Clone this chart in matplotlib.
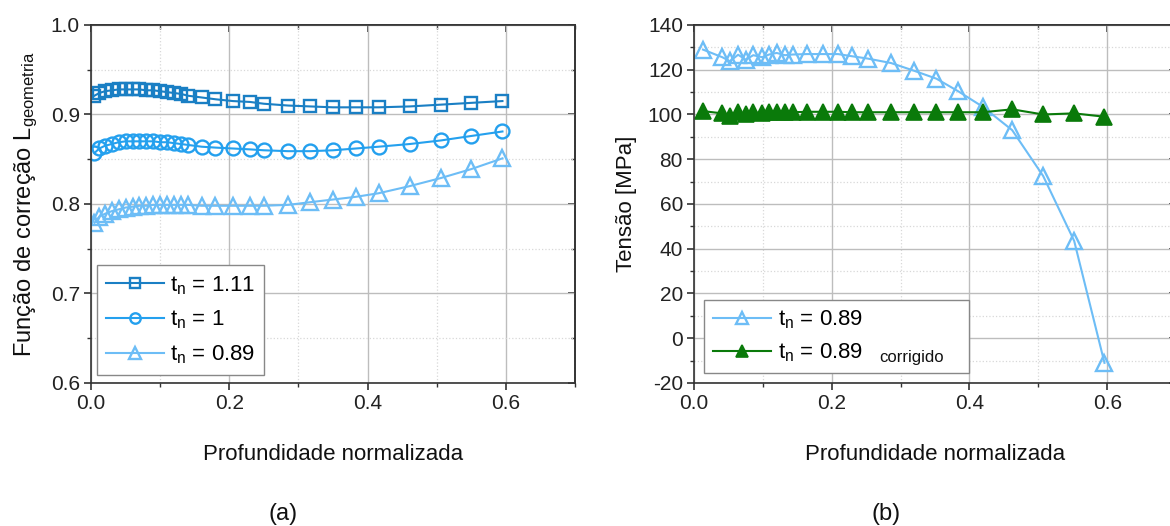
import matplotlib
matplotlib.use("Agg")
import matplotlib.pyplot as plt
from matplotlib.ticker import MultipleLocator, FormatStrFormatter

plt.rcParams['font.family'] = ['Liberation Sans', 'DejaVu Sans']
plt.rcParams['mathtext.fontset'] = 'custom'
plt.rcParams['mathtext.rm'] = 'Liberation Sans'
plt.rcParams['mathtext.it'] = 'Liberation Sans'
plt.rcParams['axes.unicode_minus'] = False

# ---- panel (a) data ----
depth_a = [0.005, 0.012, 0.02, 0.03, 0.04, 0.05, 0.06, 0.07, 0.08, 0.09, 0.10, 0.11,
           0.12, 0.13, 0.14, 0.16, 0.18, 0.205, 0.23, 0.25, 0.285, 0.317, 0.35, 0.383,
           0.416, 0.461, 0.506, 0.55, 0.595]
L_111 = [0.921, 0.924, 0.926, 0.927, 0.928, 0.928, 0.928, 0.928, 0.927, 0.927, 0.926, 0.925,
         0.924, 0.923, 0.921, 0.919, 0.917, 0.915, 0.914, 0.912, 0.910, 0.909, 0.908, 0.908,
         0.908, 0.909, 0.911, 0.913, 0.915]
L_100 = [0.857, 0.862, 0.865, 0.867, 0.869, 0.870, 0.870, 0.870, 0.870, 0.870, 0.869, 0.869,
         0.868, 0.867, 0.866, 0.864, 0.863, 0.862, 0.861, 0.860, 0.859, 0.859, 0.860, 0.862,
         0.864, 0.867, 0.871, 0.876, 0.881]
L_089 = [0.779, 0.786, 0.789, 0.792, 0.794, 0.796, 0.797, 0.798, 0.798, 0.799, 0.799, 0.799,
         0.799, 0.799, 0.799, 0.798, 0.798, 0.798, 0.798, 0.798, 0.799, 0.802, 0.805, 0.808,
         0.812, 0.820, 0.829, 0.839, 0.851]
labels_a = ["t$_{\\mathrm{n}}$ = 1.11", "t$_{\\mathrm{n}}$ = 1", "t$_{\\mathrm{n}}$ = 0.89"]

# ---- panel (b) data ----
depth_b = [0.013, 0.041, 0.052, 0.064, 0.075, 0.086, 0.099, 0.109, 0.120, 0.132, 0.143,
           0.164, 0.187, 0.209, 0.230, 0.252, 0.286, 0.319, 0.352, 0.384, 0.419, 0.462,
           0.507, 0.552, 0.596]
stress_raw = [129.0, 125.6, 123.8, 126.7, 124.5, 126.5, 125.6, 126.8, 127.5, 126.5, 126.8,
              127.0, 127.0, 127.0, 126.0, 125.0, 123.0, 119.6, 116.0, 110.3, 103.5, 93.0,
              72.5, 43.5, -11.0]
stress_corr = [101.5, 100.5, 99.2, 101.2, 100.0, 101.0, 100.5, 101.2, 101.2, 101.0, 101.0,
               101.2, 101.2, 101.2, 101.0, 101.0, 101.0, 101.0, 101.0, 101.0, 101.0, 102.3,
               100.0, 100.5, 99.0]
labels_b = ["t$_{\\mathrm{n}}$ = 0.89", "t$_{\\mathrm{n}}$ = 0.89"]

c_sq = "#1a7fc4"
c_ci = "#24a0ee"
c_tr = "#6dbdf6"
c_gr = "#0a7a0a"

fig = plt.figure(figsize=(11.7, 5.26), dpi=100)
ax1 = fig.add_axes([0.0778, 0.2719, 0.4137, 0.6806])
ax2 = fig.add_axes([0.5932, 0.2719, 0.4120, 0.6806])

fs_tick = 15
fs_lab = 16

def style(ax, xmaj, xmin, ymaj, ymin, xlim, ylim):
    ax.set_xlim(*xlim)
    ax.set_ylim(*ylim)
    ax.xaxis.set_major_locator(MultipleLocator(xmaj))
    ax.xaxis.set_minor_locator(MultipleLocator(xmin))
    ax.yaxis.set_major_locator(MultipleLocator(ymaj))
    ax.yaxis.set_minor_locator(MultipleLocator(ymin))
    ax.grid(which='major', color='#bdbdbd', lw=1.0, ls='-')
    ax.grid(which='minor', color='#d8d8d8', lw=0.9, ls=':')
    ax.set_axisbelow(True)
    ax.tick_params(which='major', direction='out', length=5, width=1.2, labelsize=fs_tick,
                   colors='#333333', labelcolor='#222222', pad=3)
    ax.tick_params(which='minor', direction='out', length=3, width=1.0, colors='#333333')
    for s in ax.spines.values():
        s.set_color('#333333')
        s.set_linewidth(1.2)
    top = ax.secondary_xaxis('top')
    top.xaxis.set_major_locator(MultipleLocator(xmaj))
    top.xaxis.set_minor_locator(MultipleLocator(xmin))
    top.tick_params(which='major', direction='in', length=5, width=1.2, labeltop=False, colors='#333333')
    top.tick_params(which='minor', direction='in', length=3, width=1.0, colors='#333333')
    right = ax.secondary_yaxis('right')
    right.yaxis.set_major_locator(MultipleLocator(ymaj))
    right.yaxis.set_minor_locator(MultipleLocator(ymin))
    right.tick_params(which='major', direction='in', length=5, width=1.2, labelright=False, colors='#333333')
    right.tick_params(which='minor', direction='in', length=3, width=1.0, colors='#333333')
    for sa in (top, right):
        for s in sa.spines.values():
            s.set_color('#333333')
            s.set_linewidth(1.2)

style(ax1, 0.2, 0.1, 0.1, 0.05, (0.0, 0.7), (0.6, 1.0))
style(ax2, 0.2, 0.1, 20, 10, (0.0, 0.7), (-20, 140))

ax1.yaxis.set_major_formatter(FormatStrFormatter('%.1f'))
ax1.xaxis.set_major_formatter(FormatStrFormatter('%.1f'))
ax2.xaxis.set_major_formatter(FormatStrFormatter('%.1f'))

mkw = dict(markerfacecolor='none', markeredgewidth=1.7, lw=1.5)
ax1.plot(depth_a, L_111, marker='s', ms=9, color=c_sq, label=labels_a[0], **mkw)
ax1.plot(depth_a, L_100, marker='o', ms=10, color=c_ci, label=labels_a[1], **mkw)
ax1.plot(depth_a, L_089, marker='^', ms=11, color=c_tr, label=labels_a[2], **mkw)

ax2.plot(depth_b, stress_raw, marker='^', ms=12, color=c_tr, label=labels_b[0], **mkw)
ax2.plot(depth_b, stress_corr, marker='^', ms=12, color=c_gr, markerfacecolor=c_gr,
         markeredgewidth=1.2, lw=1.5, label=labels_b[1])

leg_kw = dict(fontsize=16, frameon=True, fancybox=False, edgecolor='#888888', framealpha=1,
              handlelength=2.6, handletextpad=0.3, borderpad=0.4, borderaxespad=0,
              markerscale=0.75)
leg1 = ax1.legend(loc='lower left', bbox_to_anchor=(0.012, 0.022), labelspacing=0.55, **leg_kw)
leg1.get_frame().set_linewidth(1.0)
leg2 = ax2.legend(loc='lower left', bbox_to_anchor=(0.021, 0.028, 0.55, 0.2), mode='expand',
                  labelspacing=0.45, **leg_kw)
leg2.get_frame().set_linewidth(1.0)
ax2.text(0.385, 0.072, "corrigido", transform=ax2.transAxes, fontsize=12, color='#111111',
         va='center', ha='left', zorder=10)

ax1.set_xlabel("Profundidade normalizada", fontsize=fs_lab, labelpad=22, color='#111111')
ax2.set_xlabel("Profundidade normalizada", fontsize=fs_lab, labelpad=22, color='#111111')
ax1.set_ylabel("Função de correção L$_{\\mathrm{geometria}}$", fontsize=17, labelpad=8, color='#111111')
ax2.set_ylabel("Tensão [MPa]", fontsize=fs_lab, labelpad=8, color='#111111')

fig.text(0.242, 0.023, "(a)", fontsize=17, ha='center', va='center', color='#111111')
fig.text(0.757, 0.023, "(b)", fontsize=17, ha='center', va='center', color='#111111')

fig.savefig("out.png", dpi=100, facecolor='white')
